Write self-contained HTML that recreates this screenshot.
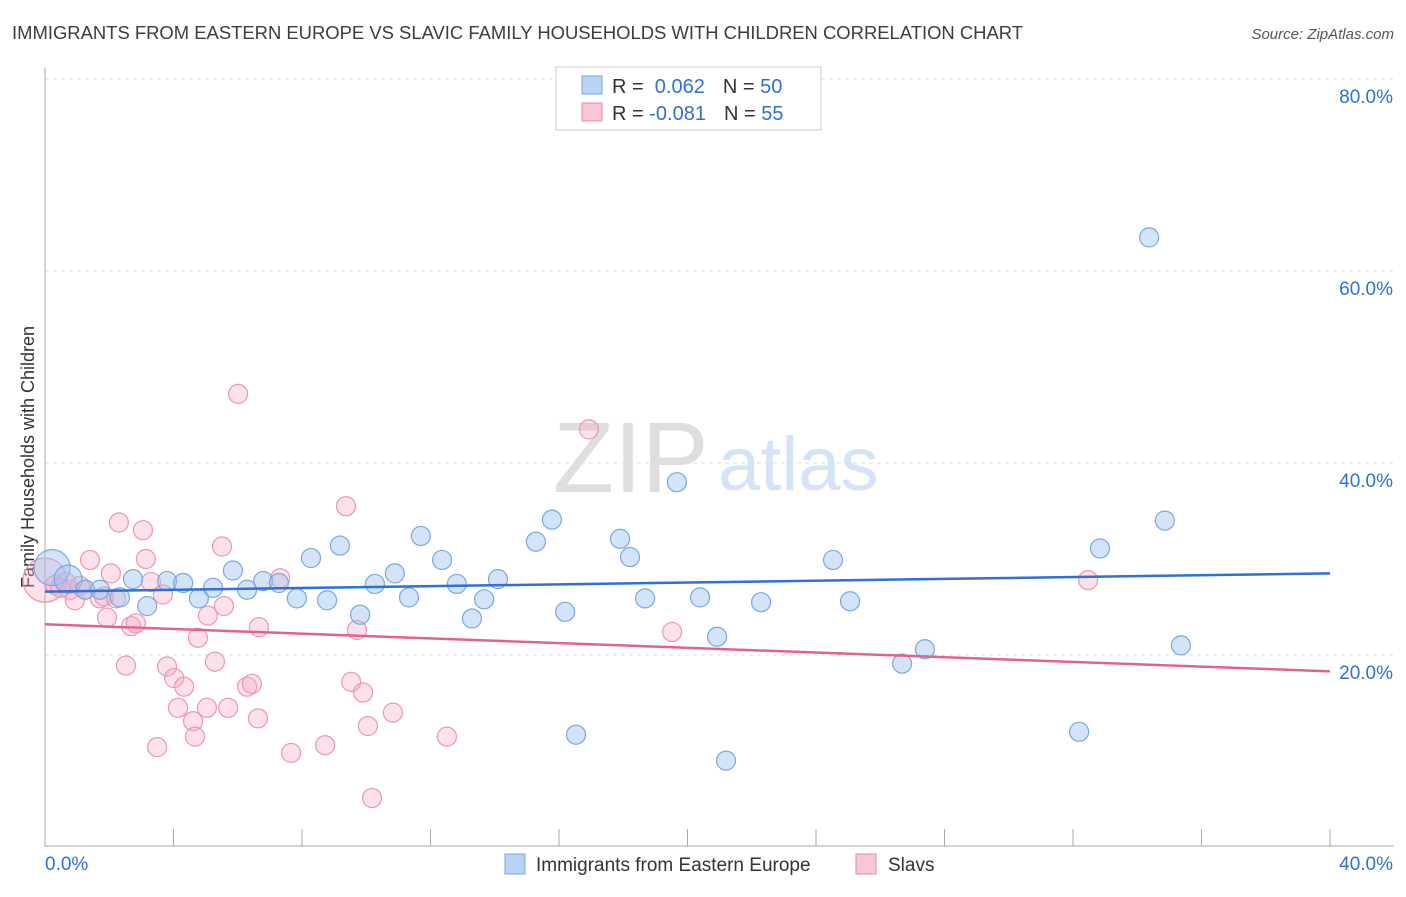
<!DOCTYPE html>
<html><head><meta charset="utf-8"><style>
body{margin:0;background:#fff;font-family:"Liberation Sans",sans-serif;}
svg text{font-family:"Liberation Sans",sans-serif;}
</style></head><body>
<svg id="chart" width="1406" height="892" xmlns="http://www.w3.org/2000/svg">
<text x="12" y="39" font-size="18" fill="#3c3c3c" textLength="1011" lengthAdjust="spacingAndGlyphs">IMMIGRANTS FROM EASTERN EUROPE VS SLAVIC FAMILY HOUSEHOLDS WITH CHILDREN CORRELATION CHART</text>
<text x="1394" y="39" font-size="15" fill="#555" font-style="italic" text-anchor="end">Source: ZipAtlas.com</text>
<text x="553" y="492" font-size="100" fill="#dedede" font-family="Liberation Serif,serif">ZIP</text>
<text x="718" y="490" font-size="76" fill="#d4e3f5">atlas</text>
<text transform="translate(34,457) rotate(-90)" font-size="18" fill="#333" text-anchor="middle">Family Households with Children</text>
<g id="grid"></g><g id="marks"></g>
<g>
<rect x="556" y="67" width="265" height="63" fill="#fff" stroke="#ccc"/>
<rect x="582" y="76" width="20" height="18" fill="#b9d3f5" stroke="#7aa7e0"/>
<rect x="582" y="103" width="20" height="18" fill="#f9c6d5" stroke="#e98aa8"/>
<text x="612" y="93" font-size="20" fill="#333">R = <tspan fill="#2f6fd6">&#160;0.062</tspan><tspan dx="18" fill="#333">N = </tspan><tspan fill="#2f6fd6">50</tspan></text>
<text x="612" y="120" font-size="20" fill="#333">R = <tspan fill="#2f6fd6">-0.081</tspan><tspan dx="18" fill="#333">N = </tspan><tspan fill="#2f6fd6">55</tspan></text>
</g>
<g>
<rect x="505" y="854" width="20" height="20" fill="#b9d3f5" stroke="#7aa7e0"/>
<text x="536" y="871" font-size="19" fill="#333">Immigrants from Eastern Europe</text>
<rect x="856" y="854" width="20" height="20" fill="#f9c6d5" stroke="#e98aa8"/>
<text x="888" y="871" font-size="19" fill="#333">Slavs</text>
</g>
</svg>
<script>
const yTicks=[20,40,60,80];
const yTickLabels=["20.0%","40.0%","60.0%","80.0%"];
const xTickLabels=["0.0%","40.0%"];
const blueX=[0.22,0.72,1.25,1.71,2.33,2.74,3.18,3.80,4.30,4.79,5.23,5.85,6.29,6.79,7.28,7.84,8.28,8.78,9.18,9.81,10.27,10.89,11.33,11.70,12.36,12.82,13.29,13.67,14.10,15.28,15.78,16.19,16.53,17.90,18.21,18.68,19.67,20.39,20.92,21.20,22.29,24.53,25.06,26.68,27.39,32.19,32.84,34.37,34.86,35.36];
const blueY=[29.1,27.9,26.8,26.8,26.0,27.9,25.1,27.7,27.5,25.9,27.0,28.8,26.8,27.7,27.5,25.9,30.1,25.7,31.4,24.2,27.4,28.5,26.0,32.4,29.9,27.4,23.8,25.8,27.9,31.8,34.1,24.5,11.7,32.1,30.2,25.9,38.0,26.0,21.9,9.0,25.5,29.9,25.6,19.1,20.6,12.0,31.1,63.5,34.0,21.0];
const pinkX=[0,0.31,0.47,0.65,0.78,0.93,1.09,1.25,1.40,1.71,1.84,1.93,2.05,2.21,2.30,2.52,2.68,2.83,3.05,3.14,3.30,3.49,3.67,3.80,4.02,4.14,4.33,4.61,4.67,4.76,5.04,5.07,5.29,5.51,5.57,5.70,6.01,6.29,6.44,6.63,6.66,7.32,7.66,8.72,9.37,9.53,9.71,9.90,10.05,10.18,10.83,12.51,16.93,19.52,32.47];
const pinkY=[27.8,27.3,27.0,27.6,26.8,25.7,27.2,26.8,29.9,25.9,26.1,23.9,28.5,25.9,33.8,18.9,23.0,23.3,33.0,30.0,27.6,10.4,26.3,18.8,17.6,14.5,16.7,13.1,11.5,21.8,14.5,24.1,19.3,31.3,25.1,14.5,47.2,16.7,17.0,13.4,22.9,28.0,9.8,10.6,35.5,17.2,22.6,16.1,12.6,5.1,14.0,11.5,43.5,22.4,27.8];
const blueTrend=[26.6,28.5];
const pinkTrend=[23.2,18.3];
const NS="http://www.w3.org/2000/svg";
const xs=v=>45+v/40*1285;
const ys=v=>847-v/20*192;
function mk(tag,attrs,parent){const e=document.createElementNS(NS,tag);for(const k in attrs)e.setAttribute(k,attrs[k]);parent.appendChild(e);return e;}
const grid=document.getElementById('grid'),marks=document.getElementById('marks');
yTicks.forEach((t,i)=>{
 const l=mk('line',{x1:45,x2:1394,y1:ys(t),y2:ys(t),stroke:'#ddd','stroke-dasharray':'4,4'},grid);
 
 
 const tx=mk('text',{x:1393,y:ys(t)+24,'font-size':19,fill:'#2f6fd6','text-anchor':'end'},grid);
 tx.textContent=yTickLabels[i];
 
 
});
const ax=mk('line',{x1:45,x2:45,y1:68,y2:847,stroke:'#aaa'},grid);


const bx=mk('line',{x1:45,x2:1394,y1:846,y2:846,stroke:'#aaa'},grid);


for(let i=1;i<=10;i++){const t=mk('line',{x1:xs(i*4),x2:xs(i*4),y1:829,y2:846,stroke:'#aaa'},grid);
 
 }
[[0,'start',45],[1,'end',1393]].forEach(([i,a,x])=>{const t=mk('text',{x:x,y:870,'font-size':19,fill:'#2f6fd6','text-anchor':a},grid);t.textContent=xTickLabels[i];
 
 });
function pts(X,Y,fill,stroke,name){X.forEach((x,i)=>{const r=(i===0)?(name==='pink-point'?22:18):(i===1&&name==='blue-point'?14:9.5);
 const c=mk('circle',{cx:xs(x),cy:ys(Y[i]),r:r,fill:fill,stroke:stroke,'stroke-width':1.2},marks);
 
 });}
pts(pinkX,pinkY,'rgba(245,170,195,0.35)','#eb97b2','pink-point');
pts(blueX,blueY,'rgba(160,196,240,0.45)','#7aa7e0','blue-point');
const bl=mk('line',{x1:xs(0),x2:xs(40),y1:ys(blueTrend[0]),y2:ys(blueTrend[1]),stroke:'#2f6fd6','stroke-width':2.5},marks);


const pl=mk('line',{x1:xs(0),x2:xs(40),y1:ys(pinkTrend[0]),y2:ys(pinkTrend[1]),stroke:'#e0638f','stroke-width':2.5},marks);


</script>
</body></html>
